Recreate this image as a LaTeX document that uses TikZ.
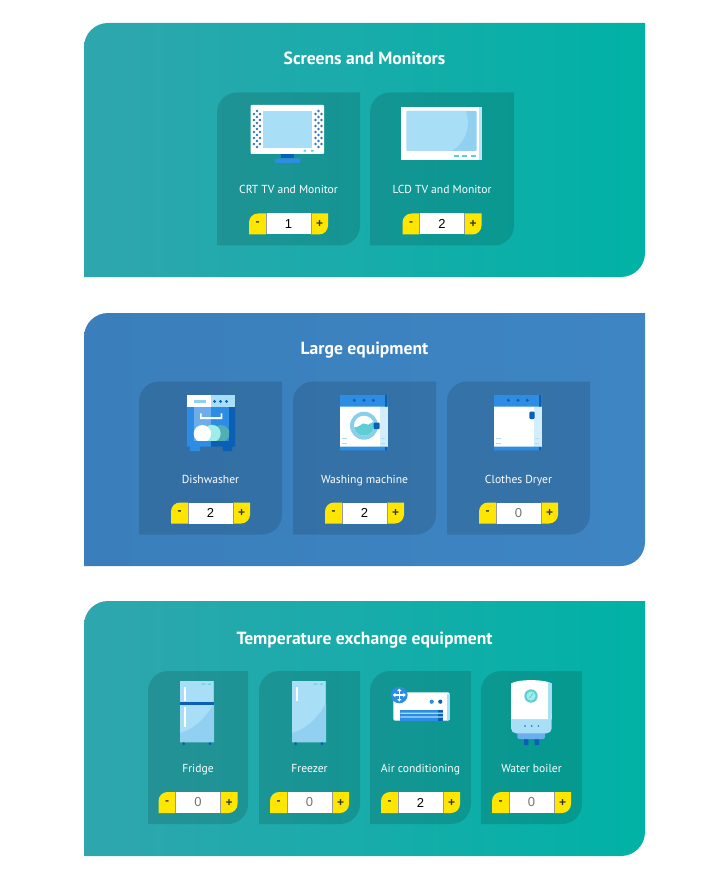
\documentclass[tikz,border=0pt]{standalone}
\usepackage{fontspec}
\setmainfont{PT Sans}
\newfontfamily\numfont{Liberation Sans}
\usetikzlibrary{arrows}
\definecolor{tealA}{RGB}{47,166,174}
\definecolor{tealB}{RGB}{0,178,165}
\definecolor{blueA}{RGB}{58,127,187}
\definecolor{blueB}{RGB}{62,133,196}
\definecolor{btn}{RGB}{255,230,0}
\definecolor{sky}{RGB}{168,222,246}
\definecolor{skyd}{RGB}{146,208,242}
\definecolor{mid}{RGB}{45,140,228}
\definecolor{deep}{RGB}{11,95,181}
\definecolor{aqua}{RGB}{94,205,212}
\definecolor{aqual}{RGB}{160,236,232}
% top left and bottom right corners rounded
\newcommand{\leaf}[3]{\path[#3] (#1.north east) [rounded corners=#2] -- (#1.south east) [sharp corners] -- (#1.south west) [rounded corners=#2] -- (#1.north west) [sharp corners] -- cycle;}
% only one of them
\newcommand{\leafnw}[3]{\path[#3] (#1.north east) -- (#1.south east) -- (#1.south west) [rounded corners=#2] -- (#1.north west) [sharp corners] -- cycle;}
\newcommand{\leafse}[3]{\path[#3] (#1.north east) [rounded corners=#2] -- (#1.south east) [sharp corners] -- (#1.south west) -- (#1.north west) -- cycle;}
\begin{document}
\begin{tikzpicture}[x=1pt, y=-1pt, box node/.style={draw=none, inner sep=0pt, outer sep=0pt},
    title node/.style={text=white, text height=12pt, text depth=3.5pt, font=\fontsize{17.6}{19}\selectfont\bfseries},
    name node/.style={text=white, text height=9pt, text depth=3pt, font=\fontsize{11.6}{14}\selectfont},
    mark node/.style={font=\numfont\bfseries\fontsize{12}{13}\selectfont, text=black!80}]
\useasboundingbox (0,0) rectangle (718,874);
\foreach \s/\y/\h/\o/\a/\b/\t in {p1/150/254/37.75/tealA/tealB/Screens and Monitors, p2/439.5/253/36.75/blueA/blueB/Large equipment, p3/728.5/255/38.75/tealA/tealB/Temperature exchange equipment}{
    \node[box node, minimum width=561pt, minimum height=\h pt] (\s) at (364.5,\y) {};
    \leaf{\s}{24pt}{left color=\a, right color=\b}
    \node[title node, node distance=\h/2-\o pt] (\s t) [above of = \s] {\t};}
\foreach \s/\x/\y/\w/\t/\v/\c in {a/288.5/169/143/CRT TV and Monitor/1/black, b/442/169/144/LCD TV and Monitor/2/black,
    c/210.5/458/143/Dishwasher/2/black, d/364.5/458/143/Washing machine/2/black, e/518.5/458/143/Clothes Dryer/0/black!55,
    f/198/747.5/100/Fridge/0/black!55, g/309.5/747.5/101/Freezer/0/black!55, h/420.5/747.5/101/Air conditioning/2/black, i/531.5/747.5/101/Water boiler/0/black!55}{
    \node[box node, minimum width=\w pt, minimum height=153pt] (\s) at (\x,\y) {};
    \leaf{\s}{20pt}{fill=black, fill opacity=.13}
    \node[name node, node distance=22pt] (\s n) [below of = \s] {\t};
    % counter under the card
    \node[box node, fill=white, minimum width=45pt, minimum height=21pt, text=\c, font=\numfont\fontsize{13}{14}\selectfont, node distance=55pt] (\s v) [below of = \s] {\v};
    \node[box node, minimum width=17pt, minimum height=21pt, node distance=31pt] (\s m) [left of = \s v] {};
    \node[box node, minimum width=17pt, minimum height=21pt, node distance=31pt] (\s p) [right of = \s v] {};
    \leafnw{\s m}{9pt}{fill=btn}
    \leafse{\s p}{9pt}{fill=btn}
    \draw[black!40!white, line width=1pt] (\s v.north west) -- (\s v.south west) (\s v.north east) -- (\s v.south east);
    \node[mark node] (\s mt) at (\s m) {-};
    \node[mark node] (\s pt) at (\s p) {+};}
% crt
\fill[white, rounded corners=1pt] (250.7,105) rectangle (324,154);
\fill[sky] (262.7,111) rectangle (312.3,148.3);
\foreach \x in {254,260,315.5,321.5}{\foreach \y in {114,120,...,144}{\fill[deep!85] (\x,\y) circle (1.4);}}
\foreach \x in {257,318.5}{\foreach \y in {111,117,...,147}{\fill[deep!85] (\x,\y) circle (1.4);}}
\fill[aqua] (303.5,150) rectangle (306,151.7) (311,150) rectangle (313.5,151.7);
\fill[deep] (281,154) rectangle (294,158.3);
\fill[mid, rounded corners=2pt] (275,158.3) rectangle (300.7,163);
% lcd
\fill[white] (401,106.7) rectangle (481.7,160);
\fill[skyd!60!white] (478.5,106.7) rectangle (481.7,160);
\fill[skyd, rounded corners=1pt] (406.7,111) rectangle (476.7,151);
\fill[sky] (406.7,111) -- (466,111) .. controls (472,130) and (462,146) .. (451,151) -- (406.7,151) -- cycle;
\foreach \x in {454,462,470.7}{\fill[aqua] (\x,155) rectangle +(5.3,1.6);}
% dishwasher
\fill[mid] (187,395) rectangle (211,446.7) (190,446.7) rectangle (200,451);
\fill[deep] (211,395) rectangle (235,446.7) (222.5,446.7) rectangle (232,451);
\fill[white] (187,395) rectangle (211,407.3);
\fill[sky] (211,395) rectangle (235,407.3);
\fill[skyd] (193.7,400.3) rectangle (206.3,403);
\foreach \x in {214.5,220.5,226.5}{\fill[deep] (\x,401.4) circle (1.6);}
\fill[mid!70!white] (193.7,407.3) rectangle (211,440.7);
\fill[mid] (211,407.3) rectangle (229,440.7);
\fill[white] (200,413.3) -- (201.5,413.3) -- (201.5,417) -- (220.5,417) -- (220.5,413.3) -- (222.3,413.3) -- (222.3,419) -- (200,419) -- cycle;
\begin{scope}
\clip (193.7,407.3) rectangle (229,440.7);
\fill[aqua!85!black] (221,433.5) circle (8.5);
\fill[aqual] (212,433.5) circle (8.7);
\fill[white] (202.4,433.7) circle (8.7);
\end{scope}
% washing machine and dryer
\foreach \x in {340,494}{
    \fill[white] (\x,395) rectangle +(47.7,55.3);
    \fill[sky!50!white] (\x+40,395) rectangle +(7.7,55.3);
    \fill[mid] (\x,395) rectangle +(47.7,11.7) (\x,446.7) rectangle +(47.7,3.6);
    \fill[deep] (\x+45,395) rectangle +(2.7,11.7) (\x+45,447) rectangle +(2.7,3.3);
    \foreach \d in {14.3,24,33.3}{\fill[deep] (\x+\d,400.3) circle (1.7);}
    \foreach \d in {2.3,41}{\foreach \y in {438.5,443}{\fill[sky] (\x+\d,\y-.5) rectangle +(4.3,1);}}}
\fill[skyd!80!aqua] (364,425.7) circle (14);
\fill[white] (364,425.7) circle (10);
\begin{scope}
\clip (364,425.7) circle (10);
\fill[aqua] (352,425) .. controls (358,432) and (362,420) .. (366,424) .. controls (369,427) and (372,420) .. (376,422) -- (376,438) -- (352,438) -- cycle;
\end{scope}
\fill[deep, rounded corners=.7pt] (373.7,422.7) rectangle (379.5,429);
\fill[deep, rounded corners=1pt] (529.3,411.7) rectangle (534.7,419);
% fridge and freezer
\foreach \x/\h in {180/1, 292/0}{
    \fill[sky] (\x,681) rectangle +(34,61.3);
    \fill[skyd] (\x+34,703) .. controls (\x+25,720) and (\x+12,730) .. (\x,733) -- (\x,742.3) -- (\x+34,742.3) -- cycle;
    \fill[skyd] (\x+32.5,681) rectangle +(1.5,61.3);
    \fill[deep] (\x+3.7,743.7) circle (1.6) (\x+30,743.7) circle (1.6);
    \fill[aqua] (\x+21.7,683.5) rectangle +(3.5,1.2) (\x+27.7,683.5) rectangle +(3.5,1.2);
    \fill[white] (\x+4,686.7) rectangle +(2.3,14.3);}
\fill[deep] (180,702.3) rectangle (214,705);
\fill[white] (184,707.3) rectangle (186.3,726.7);
% air conditioning
\fill[white, rounded corners=1.5pt] (393.3,692.3) rectangle (449.7,720.7);
\fill[sky] (446.5,693.5) rectangle (449.7,719.5);
\fill[mid] (431.7,701.7) circle (2.1);
\fill[deep] (440.3,701.7) circle (2.1);
\fill[mid] (400.3,710) rectangle (443,720.7);
\fill[deep] (438.3,710) rectangle (443,720.7);
\fill[sky] (400.3,712.5) rectangle (443,713.8) (400.3,716.3) rectangle (443,717.6);
\fill[mid] (399.3,695) circle (8.3);
\draw[white, line width=1.4pt] (394.5,695) -- (404.1,695) (399.3,690.2) -- (399.3,699.8);
\fill[white] (392.8,695) -- (395.3,692.8) -- (395.3,697.2) -- cycle (405.8,695) -- (403.3,692.8) -- (403.3,697.2) -- cycle (399.3,688.5) -- (397.1,691) -- (401.5,691) -- cycle (399.3,701.5) -- (397.1,699) -- (401.5,699) -- cycle;
% water boiler
\fill[deep] (524,738) rectangle (528.3,745) (534.7,738) rectangle (539,745);
\fill[mid!70!white, rounded corners=2pt] (517.3,730) rectangle (545,739);
\fill[sky, rounded corners=5pt] (511,710) -- (511,733.3) -- (551.7,733.3) -- (551.7,710) -- cycle;
\fill[white] (511,719) -- (511,683.5) .. controls (518,679) and (544,679) .. (551.7,683.5) -- (551.7,719) -- cycle;
\fill[sky] (548,681.9) .. controls (549.5,682.3) and (550.8,682.9) .. (551.7,683.5) -- (551.7,719) -- (548,719) -- cycle;
\foreach \x in {525,531.7,538.3}{\fill[deep] (\x,726) circle (.8);}
\fill[aqua] (531,696) circle (6.7);
\fill[aqual] (531,696) circle (4.6);
\draw[aqua, line width=.8pt] (529.5,698) -- (533,693.5);
\end{tikzpicture}
\end{document}
